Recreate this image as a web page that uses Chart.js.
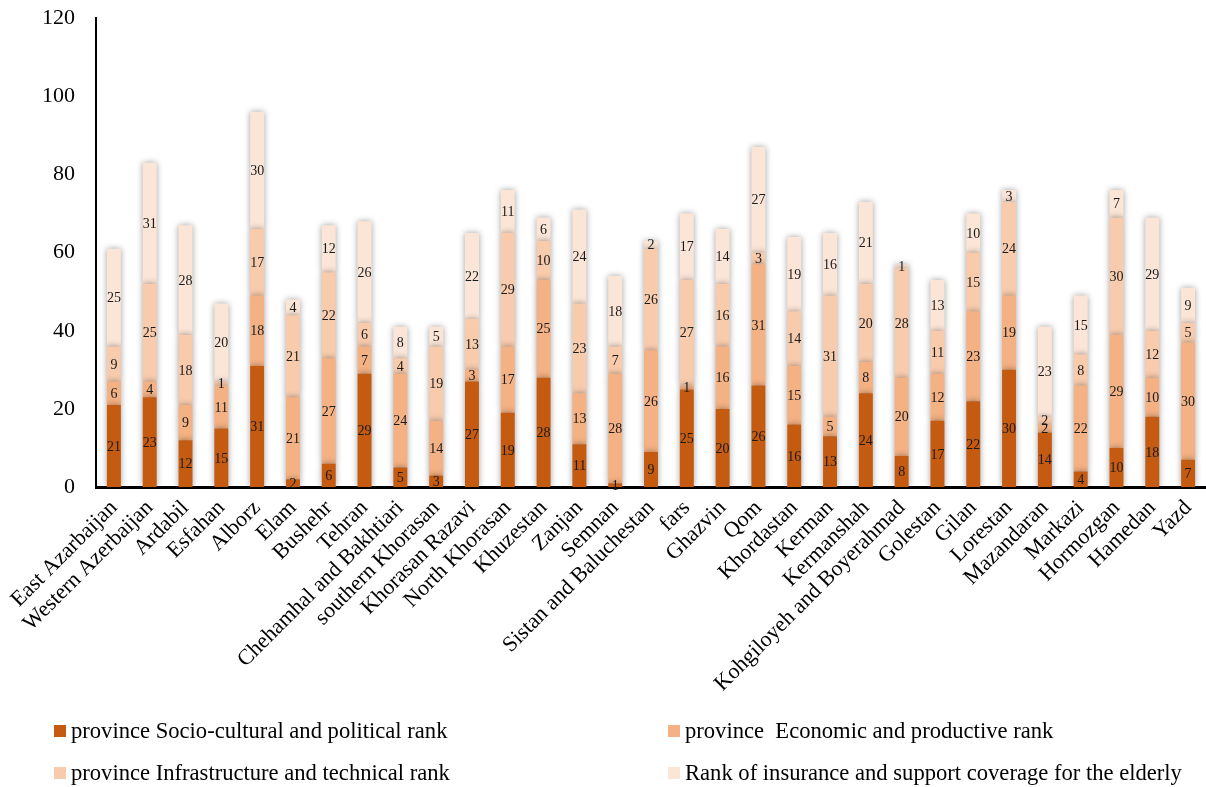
<!DOCTYPE html>
<html>
<head>
<meta charset="utf-8">
<script src="https://cdn.jsdelivr.net/npm/chart.js@4.4.1/dist/chart.umd.min.js"></script>
<style>
  body { margin: 0; background: #fff; }
  #wrap { position: relative; width: 1206px; height: 787px; }
  #leyenda { position: absolute; left: 0; top: 0; width: 1206px; height: 787px; pointer-events: none;
    font-family: "Liberation Serif", serif; font-size: 22.6px; color: #000; }
  .item { position: absolute; white-space: pre; line-height: 24px; }
  .caja { position: absolute; width: 12px; height: 12px; }
</style>
</head>
<body>
<div id="wrap">
  <canvas id="grafica"></canvas>
  <div id="leyenda"></div>
</div>
<script>
const provincias = ["East Azarbaijan", "Western Azerbaijan", "Ardabil", "Esfahan", "Alborz", "Elam", "Bushehr", "Tehran",
  "Chehamhal and Bakhtiari", "southern Khorasan", "Khorasan Razavi", "North Khorasan", "Khuzestan", "Zanjan", "Semnan",
  "Sistan and Baluchestan", "fars", "Ghazvin", "Qom", "Khordastan", "Kerman", "Kermanshah", "Kohgiloyeh and Boyerahmad",
  "Golestan", "Gilan", "Lorestan", "Mazandaran", "Markazi", "Hormozgan", "Hamedan", "Yazd"];

const socioCultural = [21, 23, 12, 15, 31, 2, 6, 29, 5, 3, 27, 19, 28, 11, 1, 9, 25, 20, 26, 16, 13, 24, 8, 17, 22, 30, 14, 4, 10, 18, 7];
const economico = [6, 4, 9, 11, 18, 21, 27, 7, 24, 14, 3, 17, 25, 13, 28, 26, 1, 16, 31, 15, 5, 8, 20, 12, 23, 19, 2, 22, 29, 10, 30];
const infraestructura = [9, 25, 18, 1, 17, 21, 22, 6, 4, 19, 13, 29, 10, 23, 7, 26, 27, 16, 3, 14, 31, 20, 28, 11, 15, 24, 2, 8, 30, 12, 5];
const seguro = [25, 31, 28, 20, 30, 4, 12, 26, 8, 5, 22, 11, 6, 24, 18, 2, 17, 14, 27, 19, 16, 21, 1, 13, 10, 3, 23, 15, 7, 29, 9];

const etiquetasSerie = [
  "province Socio-cultural and political rank",
  "province  Economic and productive rank",
  "province Infrastructure and technical rank",
  "Rank of insurance and support coverage for the elderly"
];
const ticksY = [0, 20, 40, 60, 80, 100, 120];

const colores = ["#C55A11", "#F4B183", "#F8CBAD", "#FBE5D6"];
const fuente = "'Liberation Serif', serif";

// sombra gris alrededor de las barras, como en Excel
const sombraBarras = {
  id: "sombraBarras",
  beforeDatasetsDraw(chart) {
    const ctx = chart.ctx;
    ctx.save();
    ctx.shadowColor = "rgba(0,0,0,0.38)";
    ctx.shadowBlur = 6;
    ctx.shadowOffsetX = 0;
    ctx.shadowOffsetY = 0;
  },
  afterDatasetsDraw(chart) {
    chart.ctx.restore();
  }
};

// numeros dentro de cada segmento
const numeros = {
  id: "numeros",
  afterDatasetsDraw(chart) {
    const ctx = chart.ctx;
    ctx.save();
    ctx.font = "14px " + fuente;
    ctx.fillStyle = "#1a1a1a";
    ctx.textAlign = "center";
    ctx.textBaseline = "middle";
    chart.data.datasets.forEach(function (ds, i) {
      const meta = chart.getDatasetMeta(i);
      meta.data.forEach(function (bar, j) {
        const y = (bar.y + bar.base) / 2;
        ctx.fillText(String(ds.data[j]), bar.x, y + 1);
      });
    });
    ctx.restore();
  }
};

function pintarLeyenda() {
  const cont = document.getElementById("leyenda");
  const pos = [[54, 719], [668, 719], [54, 761], [668, 761]];
  let html = "";
  for (let i = 0; i < etiquetasSerie.length; i++) {
    const x = pos[i][0], y = pos[i][1];
    html += '<div class="caja" style="left:' + x + 'px;top:' + (y + 6) + 'px;background:' + colores[i] + '"></div>';
    html += '<div class="item" style="left:' + (x + 17) + 'px;top:' + y + 'px">' + etiquetasSerie[i] + '</div>';
  }
  cont.innerHTML = html;
}

const series = [socioCultural, economico, infraestructura, seguro];

new Chart(document.getElementById("grafica"), {
  type: "bar",
  data: {
    labels: provincias,
    datasets: series.map(function (d, i) {
      return {
        label: etiquetasSerie[i],
        data: d,
        backgroundColor: colores[i],
        borderWidth: 0,
        barPercentage: 0.39,
        categoryPercentage: 1
      };
    })
  },
  options: {
    responsive: true,
    maintainAspectRatio: false,
    animation: false,
    layout: { padding: { left: 21, right: -4, top: 18, bottom: 82 } },
    plugins: {
      legend: { display: false },
      tooltip: { enabled: false }
    },
    scales: {
      x: {
        stacked: true,
        grid: { display: false, drawTicks: false },
        border: { display: true, color: "#000", width: 3 },
        afterFit: function (axis) {
          axis.paddingLeft = 0;
          axis.paddingRight = 0;
        },
        ticks: {
          autoSkip: false, maxRotation: 45, minRotation: 45, padding: 8,
          color: "#000", font: { family: fuente, size: 22 }
        }
      },
      y: {
        stacked: true,
        min: 0, max: 120,
        afterBuildTicks: function (axis) {
          axis.ticks = ticksY.map(function (v) { return { value: v }; });
        },
        afterFit: function (axis) {
          axis.paddingTop = 0;
          axis.paddingBottom = 0;
        },
        grid: { display: false, drawTicks: false },
        border: { display: true, color: "#000", width: 2 },
        ticks: { padding: 21, color: "#000", font: { family: fuente, size: 22 } }
      }
    }
  },
  plugins: [sombraBarras, numeros]
});

pintarLeyenda();
</script>
</body>
</html>
